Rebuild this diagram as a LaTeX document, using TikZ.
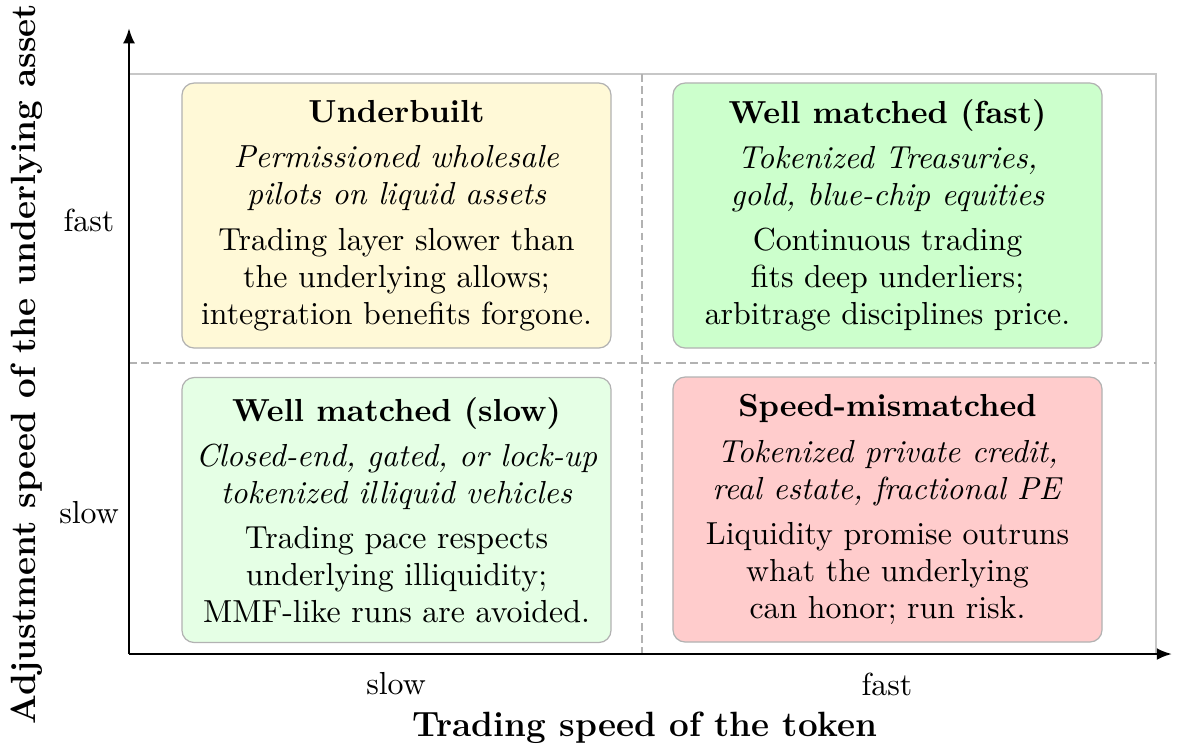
\documentclass[tikz,border=0pt]{standalone}
\usetikzlibrary{arrows.meta}
\definecolor{creamfill}{RGB}{255,249,215}
\begin{document}
\begin{tikzpicture}[x=0.3279pt,y=-0.3279pt,
  quad/.style={draw=black!30, line width=0.4pt, rounded corners=4pt, minimum width=140.7pt, minimum height=86.9pt, align=center, inner sep=0pt, font=\fontsize{10.45}{12.13}\selectfont},
  tick/.style={font=\fontsize{10.45}{12}\selectfont, inner sep=0pt},
  axlabel/.style={font=\fontsize{11.5}{13}\selectfont\bfseries, inner sep=0pt},
  grid/.style={black!30, dash pattern=on 2.5pt off 1.5pt, line width=0.4pt},
  axis/.style={line width=0.8pt, -{Latex[length=5pt,width=3.9pt]}}]
\useasboundingbox (0,0) rectangle (1178,749);
\coordinate (o) at (129,654);
\coordinate (ytip) at (129,28);
\coordinate (xtip) at (1172,654);
\coordinate (tl) at (129,74);
\coordinate (tr) at (1156,74);
\coordinate (br) at (1156,654);
\draw[black!22, line width=0.4pt] (tl) -- (tr) -- (br);
\coordinate (vt) at (642,74);
\coordinate (vb) at (642,654);
\coordinate (hl) at (129,363);
\coordinate (hr) at (1156,363);
\draw[grid] (vt) -- (vb);
\draw[grid] (hl) -- (hr);
\draw[axis] (o) -- (ytip);
\draw[axis] (o) -- (xtip);
\node[quad, fill=creamfill] (ul) at (396.5,215.5) {\textbf{Underbuilt}\\[2.7pt]
  \textit{Permissioned wholesale}\\ \textit{pilots on liquid assets}\\[2.7pt]
  Trading layer slower than\\ the underlying allows;\\ integration benefits forgone.};
\node[quad, fill=green!20] (ur) at (887.5,215.5) {\textbf{Well matched (fast)}\\[2.7pt]
  \textit{Tokenized Treasuries,}\\ \textit{gold, blue-chip equities}\\[2.7pt]
  Continuous trading\\ fits deep underliers;\\ arbitrage disciplines price.};
\node[quad, fill=green!10] (ll) at (396.5,510) {\textbf{Well matched (slow)}\\[2.7pt]
  \textit{Closed-end, gated, or lock-up}\\ \textit{tokenized illiquid vehicles}\\[2.7pt]
  Trading pace respects\\ underlying illiquidity;\\ MMF-like runs are avoided.};
\node[quad, fill=red!20] (lr) at (887.5,509.5) {\textbf{Speed-mismatched}\\[2.7pt]
  \textit{Tokenized private credit,}\\ \textit{real estate, fractional PE}\\[2.7pt]
  Liquidity promise outruns\\ what the underlying\\ can honor; run risk.};
\node[tick] (yfast) at (89,220) {fast};
\node[tick] (yslow) at (89,513) {slow};
\node[tick] (xslow) at (396,684) {slow};
\node[tick] (xfast) at (887,684) {fast};
\node[axlabel] (xlab) at (645,728) {Trading speed of the token};
\node[axlabel, rotate=90] (ylab) at (27,364) {Adjustment speed of the underlying asset};
\end{tikzpicture}
\end{document}
